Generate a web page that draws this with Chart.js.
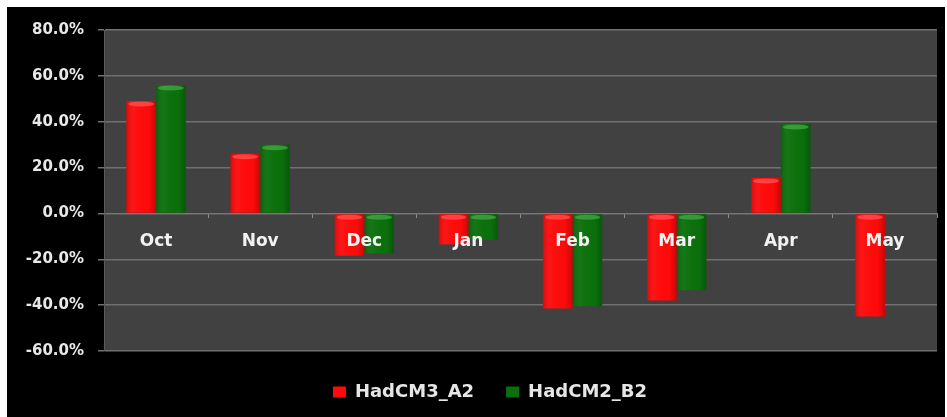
<!DOCTYPE html>
<html>
<head>
<meta charset="utf-8">
<script src="https://cdn.jsdelivr.net/npm/chart.js@4.4.1/dist/chart.umd.min.js"></script>
<style>
  html, body { margin: 0; padding: 0; background: #ffffff; overflow: hidden; }
  #wrap { position: absolute; left: 7px; top: 7px; width: 938px; height: 410px; background: #000000; }
  canvas { display: block; }
</style>
</head>
<body>
<div id="wrap"><canvas id="c" width="938" height="410"></canvas></div>
<script>
const categories = ['Oct', 'Nov', 'Dec', 'Jan', 'Feb', 'Mar', 'Apr', 'May'];
const seriesNames = ['HadCM3_A2', 'HadCM2_B2'];
const hadcm3A2 = [49, 26, -18.5, -13.5, -41.5, -38, 15.5, -45];
const hadcm2B2 = [56, 30, -17.5, -11.5, -40.5, -33.5, 39, 0];
const yTicks = [-60, -40, -20, 0, 20, 40, 60, 80];

const RED = '#ff0a0a';
const GREEN = '#0b700b';
const CAP = { [RED]: 'rgba(255,110,110,0.55)', [GREEN]: 'rgba(90,190,90,0.55)' };

const plotBg = {
  id: 'plotBg',
  beforeDraw(chart) {
    const { ctx, chartArea: a } = chart;
    ctx.save();
    ctx.fillStyle = '#414141';
    ctx.fillRect(a.left, a.top, a.right - a.left, a.bottom - a.top);
    ctx.restore();
  }
};

const legendShift = {
  id: 'legendShift',
  afterLayout(chart) {
    if (chart.legend) { chart.legend.left += 18; chart.legend.right += 18; }
  }
};

const cylinder = {
  id: 'cylinder',
  afterDatasetsDraw(chart) {
    const ctx = chart.ctx;
    chart.data.datasets.forEach((ds, di) => {
      const meta = chart.getDatasetMeta(di);
      meta.data.forEach((bar, i) => {
        const v = ds.data[i];
        if (v === 0 || v == null) return;
        const p = bar.getProps(['x', 'y', 'base', 'width'], true);
        const l = p.x - p.width / 2, r = p.x + p.width / 2;
        const top = Math.min(p.y, p.base), bot = Math.max(p.y, p.base);
        ctx.save();
        const g = ctx.createLinearGradient(l, 0, r, 0);
        g.addColorStop(0, 'rgba(0,0,0,0.15)');
        g.addColorStop(0.3, 'rgba(255,255,255,0.03)');
        g.addColorStop(0.75, 'rgba(0,0,0,0.0)');
        g.addColorStop(1, 'rgba(0,0,0,0.22)');
        ctx.fillStyle = g;
        ctx.fillRect(l, top, r - l, bot - top);
        ctx.beginPath();
        ctx.ellipse(p.x, top + 3, p.width / 2 - 2, 2.5, 0, 0, Math.PI * 2);
        ctx.fillStyle = CAP[ds.backgroundColor];
        ctx.fill();
        ctx.restore();
      });
    });
  }
};

new Chart(document.getElementById('c'), {
  type: 'bar',
  data: {
    labels: categories,
    datasets: [
      { label: seriesNames[0], data: hadcm3A2, backgroundColor: RED, borderWidth: 0 },
      { label: seriesNames[1], data: hadcm2B2, backgroundColor: GREEN, borderWidth: 0 }
    ]
  },
  options: {
    responsive: false,
    animation: false,
    devicePixelRatio: 1,
    datasets: { bar: { categoryPercentage: 0.57, barPercentage: 1.0 } },
    layout: { padding: { top: 22, right: 8, left: 0, bottom: 6 } },
    plugins: {
      tooltip: { enabled: false },
      legend: {
        position: 'bottom',
        labels: {
          boxWidth: 13,
          boxHeight: 11,
          padding: 32,
          color: '#e6e6e6',
          font: { family: 'DejaVu Sans', size: 18, weight: 'bold' }
        }
      }
    },
    scales: {
      x: {
        position: { y: 0 },
        grid: { display: true, drawOnChartArea: false, drawTicks: true, tickLength: 4, color: '#8a8a8a', offset: true },
        border: { display: true, color: '#777777', width: 1 },
        ticks: { z: 1, color: '#f2f2f2', padding: 14, font: { family: 'DejaVu Sans', size: 17, weight: 'bold' } }
      },
      y: {
        min: yTicks[0],
        max: yTicks[yTicks.length - 1],
        afterBuildTicks(scale) { scale.ticks = yTicks.map(v => ({ value: v })); },
        afterFit(scale) { scale.width = 97; },
        grid: { color: '#707070', lineWidth: 1.5, tickLength: 6 },
        border: { display: true, color: '#5a5a5a', width: 1 },
        ticks: {
          color: '#e8e8e8',
          padding: 14,
          font: { family: 'DejaVu Sans', size: 15, weight: 'bold' },
          callback: v => v.toFixed(1) + '%'
        }
      }
    }
  },
  plugins: [plotBg, legendShift, cylinder]
});
</script>
</body>
</html>
